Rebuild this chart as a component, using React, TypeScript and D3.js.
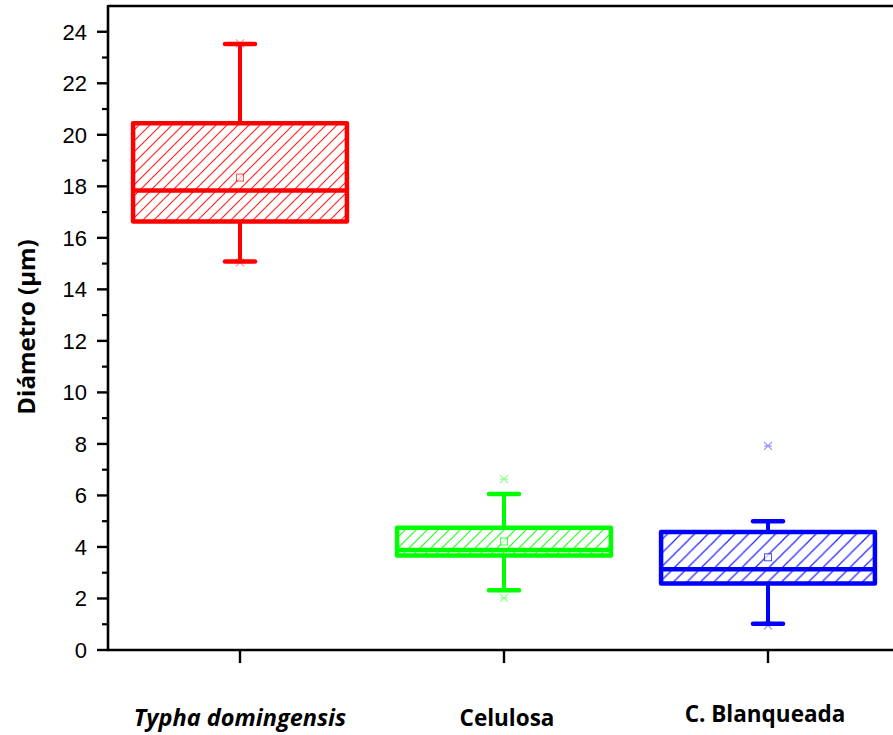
import React from "react";
import * as d3 from "d3";

// Box-plot summary per sample (diameter in µm)
const categories = ["Typha domingensis", "Celulosa", "C. Blanqueada"];
const whiskerLow = [15.08, 2.32, 1.02];
const q1 = [16.63, 3.67, 2.58];
const median = [17.84, 3.88, 3.13];
const q3 = [20.45, 4.75, 4.58];
const whiskerHigh = [23.52, 6.06, 5.0];
const meanVal = [18.34, 4.21, 3.6];
const minVal = [15.05, 2.02, 0.96];
const maxVal = [23.55, 6.63, 7.92];
const colors = ["#ff0000", "#00ff00", "#0000ff"];
const hatchSpacing = [11, 11, 13.5];

const yTicks = [0, 2, 4, 6, 8, 10, 12, 14, 16, 18, 20, 22, 24];
const yMinorTicks = [1, 3, 5, 7, 9, 11, 13, 15, 17, 19, 21, 23];

const W = 893;
const H = 735;
const left = 108;
const top = 6;
const bottom = 650;
const titleFont = "'Open Sans', Lato, sans-serif";

export default function App() {
  const y = d3.scaleLinear().domain([0, 25]).range([bottom, top]);
  const x = d3.scaleBand<string>().domain(categories).range([left, 900]).padding(0);
  const boxW = x.bandwidth() * 0.81;
  const capW = 30;
  const cx = (c: string) => (x(c) as number) + x.bandwidth() / 2;

  const star = (px: number, py: number, color: string, key: string) => {
    const s = 4;
    return (
      <g key={key} stroke={color} strokeWidth={1.1} opacity={0.45}>
        <line x1={px - s} y1={py - s} x2={px + s} y2={py + s} />
        <line x1={px - s} y1={py + s} x2={px + s} y2={py - s} />
        <line x1={px - s} y1={py} x2={px + s} y2={py} />
      </g>
    );
  };

  return (
    <svg
      width={W}
      height={H}
      style={{ position: "absolute", left: 0, top: 0, background: "#fff" }}
    >
      <defs>
        {categories.map((c, i) => {
          const s = hatchSpacing[i];
          return (
            <pattern
              key={c}
              id={`hatch-${i}`}
              patternUnits="userSpaceOnUse"
              width={s}
              height={s}
            >
              <line x1={-1} y1={s + 1} x2={s + 1} y2={-1} stroke={colors[i]} strokeWidth={1.2} opacity={0.85} />
              <line x1={-s - 1} y1={s + 1} x2={1} y2={-1} stroke={colors[i]} strokeWidth={1.2} opacity={0.85} />
              <line x1={s - 1} y1={s + 1} x2={2 * s + 1} y2={-1} stroke={colors[i]} strokeWidth={1.2} opacity={0.85} />
            </pattern>
          );
        })}
      </defs>

      {/* frame: top line, y axis, x axis */}
      <line x1={left} y1={top} x2={W} y2={top} stroke="#000" strokeWidth={2.6} />
      <line x1={left} y1={top - 1} x2={left} y2={bottom + 1} stroke="#000" strokeWidth={2.6} />
      <line x1={left - 1} y1={bottom} x2={W} y2={bottom} stroke="#000" strokeWidth={2.6} />

      {/* y ticks */}
      {yTicks.map((t) => (
        <g key={`yt${t}`}>
          <line x1={left - 11} x2={left} y1={y(t)} y2={y(t)} stroke="#000" strokeWidth={2.4} />
          <text
            x={87}
            y={y(t)}
            dy="0.36em"
            textAnchor="end"
            fontFamily="'Liberation Sans', Arial, sans-serif"
            fontSize={22}
            fill="#000"
          >
            {t}
          </text>
        </g>
      ))}
      {yMinorTicks.map((t) => (
        <line key={`ym${t}`} x1={left - 6} x2={left} y1={y(t)} y2={y(t)} stroke="#000" strokeWidth={2.2} />
      ))}

      {/* x ticks and labels */}
      {categories.map((c, i) => (
        <g key={`xt${c}`}>
          <line x1={cx(c)} x2={cx(c)} y1={bottom} y2={bottom + 13} stroke="#000" strokeWidth={2.4} />
          <text
            x={i === 2 ? cx(c) - 3 : cx(c) + (i === 1 ? 3 : 0)}
            y={i === 2 ? 722 : 726}
            textAnchor="middle"
            fontFamily={titleFont}
            fontWeight="bold"
            fontStyle={i === 0 ? "italic" : "normal"}
            fontSize={i === 0 ? 23.5 : 22.5}
            fill="#000"
          >
            {c}
          </text>
        </g>
      ))}

      {/* y axis title */}
      <text
        transform={`translate(35, 327) rotate(-90)`}
        textAnchor="middle"
        fontFamily={titleFont}
        fontWeight="bold"
        fontSize={24}
        fill="#000"
      >
        Diámetro (µm)
      </text>

      {/* boxes */}
      {categories.map((c, i) => {
        const mx = cx(c);
        const col = colors[i];
        return (
          <g key={`box${c}`}>
            {/* whiskers */}
            <line x1={mx} x2={mx} y1={y(q3[i])} y2={y(whiskerHigh[i])} stroke={col} strokeWidth={4} />
            <line x1={mx} x2={mx} y1={y(q1[i])} y2={y(whiskerLow[i])} stroke={col} strokeWidth={4} />
            <line
              x1={mx - capW / 2}
              x2={mx + capW / 2}
              y1={y(whiskerHigh[i])}
              y2={y(whiskerHigh[i])}
              stroke={col}
              strokeWidth={4.5}
              strokeLinecap="round"
            />
            <line
              x1={mx - capW / 2}
              x2={mx + capW / 2}
              y1={y(whiskerLow[i])}
              y2={y(whiskerLow[i])}
              stroke={col}
              strokeWidth={4.5}
              strokeLinecap="round"
            />
            {/* box */}
            <rect
              x={mx - boxW / 2}
              y={y(q3[i])}
              width={boxW}
              height={y(q1[i]) - y(q3[i])}
              fill={`url(#hatch-${i})`}
              stroke={col}
              strokeWidth={4.5}
              strokeLinejoin="round"
            />
            {/* median */}
            <line
              x1={mx - boxW / 2}
              x2={mx + boxW / 2}
              y1={y(median[i])}
              y2={y(median[i])}
              stroke={col}
              strokeWidth={4.5}
            />
            {/* mean */}
            <rect
              x={mx - 3.5}
              y={y(meanVal[i]) - 3.5}
              width={7}
              height={7}
              fill="#fff"
              stroke={col}
              strokeWidth={1}
              opacity={0.7}
            />
            {/* min / max */}
            {star(mx, y(maxVal[i]), col, `max${i}`)}
            {star(mx, y(minVal[i]), col, `min${i}`)}
          </g>
        );
      })}
    </svg>
  );
}
